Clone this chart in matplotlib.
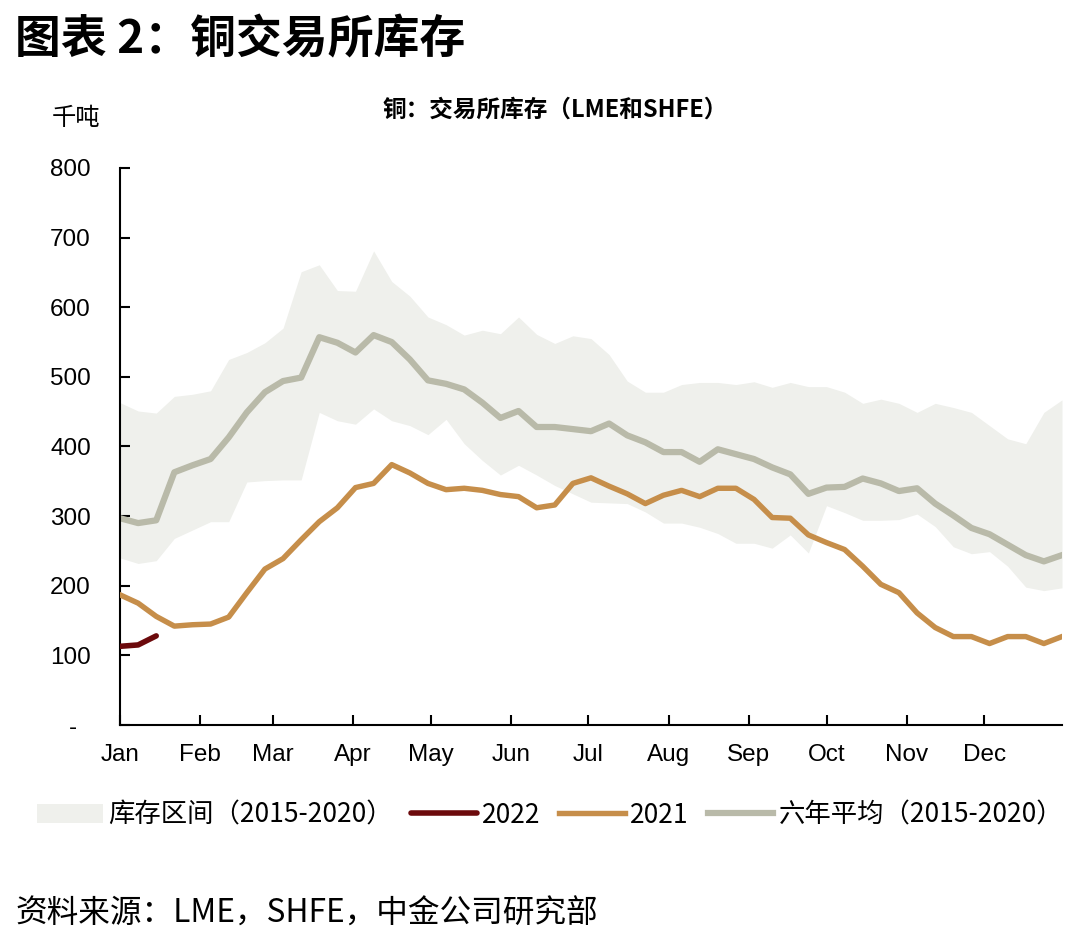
import numpy as np
import matplotlib
matplotlib.use("Agg")
import matplotlib.pyplot as plt

plt.rcParams['font.family'] = ['Noto Sans CJK SC', 'DejaVu Sans']

# ---- data (thousand tonnes, weekly, 53 points) ----
band_high = [463, 451, 448, 472, 475, 480, 525, 535, 549, 570, 651, 661, 624, 623, 681, 637,
             616, 586, 575, 560, 567, 562, 586, 561, 548, 559, 555, 532, 494, 478, 478, 489,
             492, 492, 489, 493, 485, 492, 486, 486, 478, 462, 468, 462, 449, 462, 456, 449,
             430, 411, 404, 449, 467]
band_low = [240, 232, 236, 268, 280, 292, 292, 349, 351, 352, 352, 449, 437, 432, 454, 437,
            430, 417, 439, 404, 380, 359, 373, 359, 344, 332, 320, 319, 318, 306, 290, 290,
            284, 275, 261, 261, 254, 273, 247, 315, 305, 294, 294, 295, 303, 285, 256, 246,
            249, 228, 198, 193, 197]
avg_6y = [297, 290, 294, 363, 373, 382, 413, 449, 478, 494, 499, 557, 549, 535, 560, 550,
          525, 495, 490, 482, 463, 441, 451, 428, 428, 425, 422, 433, 416, 406, 392, 392,
          378, 396, 389, 382, 370, 360, 332, 341, 342, 354, 347, 336, 340, 318, 301, 283,
          274, 259, 244, 235, 244]
y2021 = [187, 175, 156, 142, 144, 145, 155, 190, 224, 239, 266, 292, 312, 341, 347, 374,
         362, 347, 338, 340, 337, 331, 328, 312, 316, 347, 355, 343, 332, 318, 330, 337,
         328, 340, 340, 324, 298, 297, 273, 262, 252, 228, 202, 190, 161, 140, 127, 127,
         117, 127, 127, 117, 127]
y2022 = [113, 115, 128]

month_labels = ['Jan', 'Feb', 'Mar', 'Apr', 'May', 'Jun', 'Jul', 'Aug', 'Sep', 'Oct', 'Nov', 'Dec']
month_start_days = [0, 31, 59, 90, 120, 151, 181, 212, 243, 273, 304, 334]
y_ticks = [0, 100, 200, 300, 400, 500, 600, 700, 800]
y_ticklabels = ['-  ', '100', '200', '300', '400', '500', '600', '700', '800']

# ---- figure ----
W, H = 1080, 938
fig = plt.figure(figsize=(W / 100, H / 100), dpi=100)
ax = fig.add_axes([120 / W, 1 - 725 / H, 942 / W, 557 / H])

weeks = np.arange(len(avg_6y))
ax.fill_between(weeks, band_low, band_high, color='#EFF0EC', lw=0, zorder=1,
                label='库存区间（2015-2020）')
ax.plot(weeks, avg_6y, color='#B9BAA9', lw=4.5, zorder=2,
        label='六年平均（2015-2020）')
ax.plot(weeks, y2021, color='#C68E4A', lw=3.9, zorder=3, label='2021')
ax.plot(weeks[:len(y2022)], y2022, color='#6C0A0C', lw=4.0, zorder=4,
        solid_capstyle='round', label='2022')

ax.set_xlim(0, len(avg_6y) - 1)
ax.set_ylim(0, 800)

ax.set_xticks([d / 7 for d in month_start_days])
ax.set_xticklabels(month_labels, family=['Liberation Sans'], fontsize=17.5)
ax.set_yticks(y_ticks)
ax.set_yticklabels(y_ticklabels, family=['Liberation Sans'], fontsize=17.5)

for s in ['top', 'right']:
    ax.spines[s].set_visible(False)
for s in ['left', 'bottom']:
    ax.spines[s].set_linewidth(1.5)
    ax.spines[s].set_color('black')
ax.tick_params(axis='both', direction='in', length=7, width=1.5, color='black')
ax.tick_params(axis='y', pad=21)
ax.tick_params(axis='x', pad=14)

# legend
handles, labels = ax.get_legend_handles_labels()
order = ['库存区间（2015-2020）', '2022', '2021', '六年平均（2015-2020）']
hmap = dict(zip(labels, handles))
fig.legend([hmap[k] for k in order], order, loc='center',
           bbox_to_anchor=(550 / W, 1 - 815 / H), ncol=4, frameon=False,
           fontsize=19, handlelength=2.5, handletextpad=0.2, columnspacing=0.7,
           borderaxespad=0)

# texts
fig.text(15 / W, 1 - 40 / H, '图表 2：铜交易所库存', fontsize=33, fontweight='bold',
         ha='left', va='center')
fig.text(555 / W, 1 - 110 / H, '铜：交易所库存（LME和SHFE）', fontsize=17,
         fontweight='bold', ha='center', va='center')
fig.text(52 / W, 1 - 118 / H, '千吨', fontsize=17.5, ha='left', va='center')
fig.text(15 / W, 1 - 914 / H, '资料来源：LME，SHFE，中金公司研究部', fontsize=22.8,
         ha='left', va='center')

fig.savefig('out.png', dpi=100, facecolor='white')
